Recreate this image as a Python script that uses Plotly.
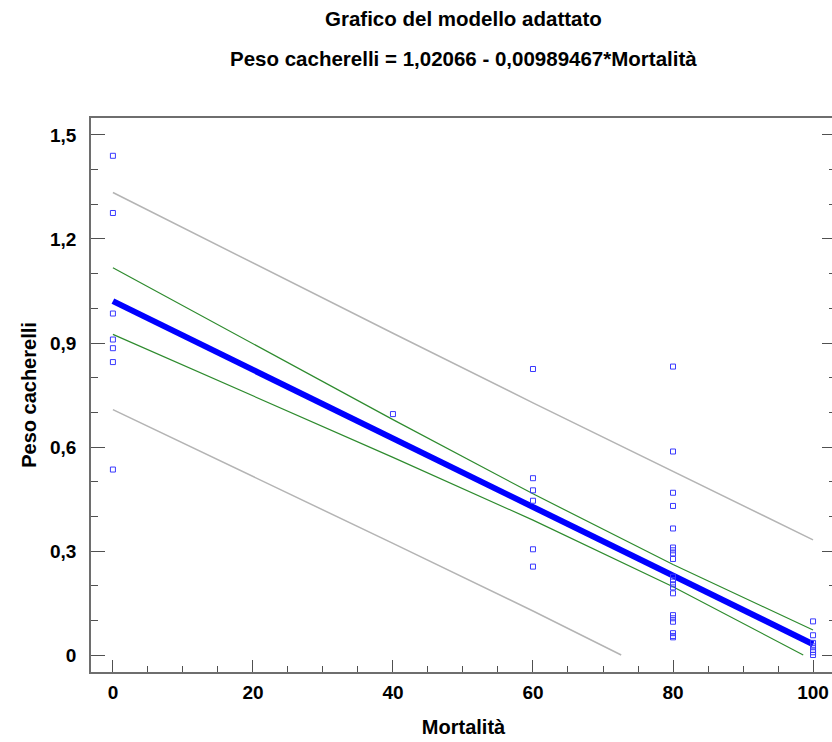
import plotly.graph_objects as go

# ---- data ----
mort_0 = [0, 0, 0, 0, 0, 0, 0]
peso_0 = [1.44, 1.275, 0.985, 0.91, 0.885, 0.845, 0.535]
mort_40 = [40]
peso_40 = [0.695]
mort_60 = [60, 60, 60, 60, 60, 60]
peso_60 = [0.825, 0.51, 0.475, 0.445, 0.305, 0.255]
mort_80 = [80] * 20
peso_80 = [0.832, 0.587, 0.468, 0.43, 0.365, 0.31, 0.302, 0.293, 0.277, 0.226,
           0.216, 0.204, 0.195, 0.178, 0.115, 0.106, 0.096, 0.063, 0.055, 0.051]
mort_100 = [100] * 7
peso_100 = [0.097, 0.057, 0.035, 0.025, 0.015, 0.008, 0.0]

fit_x = [0, 100]
fit_y = [1.02066, 0.03119]

band_x = [0, 20, 40, 60, 80, 100]
conf_upper = [1.117, 0.897, 0.679, 0.465, 0.261, 0.072]
conf_lower_x = [0, 20, 40, 60, 80, 98.6]
conf_lower = [0.925, 0.748, 0.570, 0.389, 0.197, 0.0]
pred_upper = [1.334, 1.130, 0.928, 0.7275, 0.529, 0.332]
pred_lower_x = [0, 20, 40, 60, 72.6]
pred_lower = [0.708, 0.516, 0.322, 0.127, 0.0]

y_tickvals = [0, 0.3, 0.6, 0.9, 1.2, 1.5]
y_ticktext = ["0", "0,3", "0,6", "0,9", "1,2", "1,5"]
x_tickvals = [0, 20, 40, 60, 80, 100]

title1 = "Grafico del modello adattato"
title2 = "Peso cacherelli = 1,02066 - 0,00989467*Mortalità"
x_title = "Mortalità"
y_title = "Peso cacherelli"

FONT = "Liberation Sans Narrow, Arial Narrow, Liberation Sans, Arial, sans-serif"

xs = mort_0 + mort_40 + mort_60 + mort_80 + mort_100
ys = peso_0 + peso_40 + peso_60 + peso_80 + peso_100

fig = go.Figure()
gray = "#b4b4b4"
green = "#2e8b2e"
fig.add_trace(go.Scatter(x=band_x, y=pred_upper, mode="lines",
                         line=dict(color=gray, width=1.5), hoverinfo="skip"))
fig.add_trace(go.Scatter(x=pred_lower_x, y=pred_lower, mode="lines",
                         line=dict(color=gray, width=1.5), hoverinfo="skip"))
fig.add_trace(go.Scatter(x=band_x, y=conf_upper, mode="lines",
                         line=dict(color=green, width=1.2), hoverinfo="skip"))
fig.add_trace(go.Scatter(x=conf_lower_x, y=conf_lower, mode="lines",
                         line=dict(color=green, width=1.2), hoverinfo="skip"))
fig.add_trace(go.Scatter(x=fit_x, y=fit_y, mode="lines",
                         line=dict(color="#0000ff", width=6)))
fig.add_trace(go.Scatter(x=xs, y=ys, mode="markers",
                         marker=dict(symbol="square-open", size=5,
                                     color="#3a3aff", line=dict(width=1, color="#3a3aff"))))

axis_common = dict(
    showgrid=False, zeroline=False, showline=True, linecolor="#6e6e6e", linewidth=1.5,
    ticks="inside", tickcolor="#505050", tickwidth=1.2,
    tickfont=dict(family=FONT, size=19, color="black", weight="bold"),
)

fig.update_xaxes(
    **axis_common, range=[-3.13, 103.28], tickvals=x_tickvals, ticklen=12,
    mirror=True, ticklabelstandoff=2,
    minor=dict(ticks="inside", ticklen=6, dtick=5, tick0=0, tickcolor="#505050", tickwidth=1.2),
    title=dict(text=x_title, font=dict(family=FONT, size=20, color="black", weight="bold"), standoff=18),
)
fig.update_yaxes(
    **axis_common, range=[-0.049, 1.549], tickvals=y_tickvals, ticktext=y_ticktext,
    ticklen=14, mirror="ticks", ticklabelstandoff=9,
    minor=dict(ticks="inside", ticklen=7, dtick=0.1, tick0=0, tickcolor="#505050", tickwidth=1.2),
    title=dict(text=y_title, font=dict(family=FONT, size=20, color="black", weight="bold"), standoff=8),
)

fig.update_layout(
    width=838, height=742,
    margin=dict(l=91, r=0, t=118, b=70),
    plot_bgcolor="white", paper_bgcolor="white",
    showlegend=False,
    annotations=[
        dict(text="<b>" + title1 + "</b>", x=0.5, xref="paper", xanchor="center",
             y=(672 - 18) / 554, yref="paper", yanchor="middle", showarrow=False,
             font=dict(family=FONT, size=20.5, color="black")),
        dict(text="<b>" + title2 + "</b>", x=0.5, xref="paper", xanchor="center",
             y=(672 - 58) / 554, yref="paper", yanchor="middle", showarrow=False,
             font=dict(family=FONT, size=20.5, color="black")),
    ],
)

fig.write_html("out.html", config={"displayModeBar": False},
               post_script="document.body.style.margin='0px';document.body.style.overflow='hidden';document.documentElement.style.overflow='hidden';")
